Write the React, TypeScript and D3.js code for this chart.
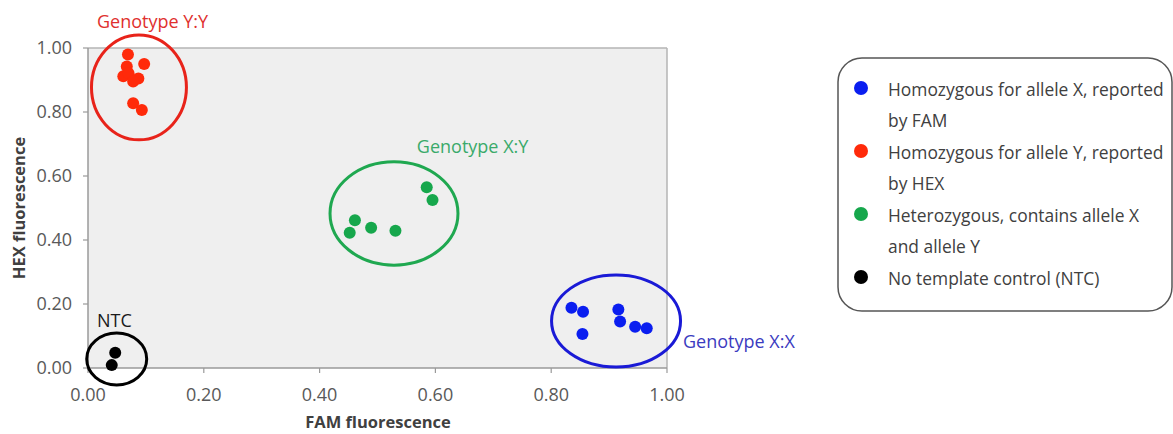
import React from "react";
import * as d3 from "d3";

// ---- data (FAM, HEX fluorescence) ----
const blueFAM = [0.835, 0.855, 0.854, 0.916, 0.919, 0.945, 0.965];
const blueHEX = [0.188, 0.176, 0.106, 0.183, 0.145, 0.129, 0.124];
const redFAM = [0.069, 0.097, 0.067, 0.061, 0.07, 0.087, 0.078, 0.078, 0.093];
const redHEX = [0.98, 0.95, 0.942, 0.912, 0.921, 0.905, 0.895, 0.827, 0.806];
const greenFAM = [0.585, 0.595, 0.461, 0.452, 0.489, 0.531];
const greenHEX = [0.565, 0.525, 0.462, 0.423, 0.438, 0.429];
const ntcFAM = [0.047, 0.041];
const ntcHEX = [0.048, 0.009];

const xTicks = [0, 0.2, 0.4, 0.6, 0.8, 1.0];
const yTicks = [0, 0.2, 0.4, 0.6, 0.8, 1.0];

const legendLabels = [
  ["Homozygous for allele X, reported", "by FAM"],
  ["Homozygous for allele Y, reported", "by HEX"],
  ["Heterozygous, contains allele X", "and allele Y"],
  ["No template control (NTC)"],
];

// cluster annotations in data units: cx, cy, rx, ry
const clusterNames = ["Genotype X:X", "Genotype Y:Y", "Genotype X:Y", "NTC"];
const clusterCX = [0.912, 0.088, 0.5285, 0.0496];
const clusterCY = [0.147, 0.877, 0.483, 0.028];
const clusterRX = [0.1114, 0.082, 0.1105, 0.0518];
const clusterRY = [0.144, 0.164, 0.1616, 0.081];
const labelX = [1.0276, 0.0155, 0.568, 0.0155];
const labelY = [0.0625, 1.0625, 0.672, 0.128];

const COLORS = ["#0a1ef0", "#ff2a0a", "#16a74c", "#000000"];
const ELLIPSE_COLORS = ["#1a1ad6", "#e8231a", "#1fa850", "#000000"];
const LABEL_COLORS = ["#3b3bc0", "#e0302e", "#3aaa6a", "#1a1a1a"];

export default function App() {
  const W = 1173;
  const H = 434;
  const x = d3.scaleLinear().domain([0, 1]).range([88, 667]);
  const y = d3.scaleLinear().domain([0, 1]).range([368, 48]);

  const series = [
    { fam: blueFAM, hex: blueHEX },
    { fam: redFAM, hex: redHEX },
    { fam: greenFAM, hex: greenHEX },
    { fam: ntcFAM, hex: ntcHEX },
  ];
  const font = "'Open Sans', sans-serif";
  const legendX = 838;
  const legendTop = 58;

  return (
    <svg
      width={W}
      height={H}
      style={{ position: "fixed", left: 0, top: 0, background: "#fff" }}
      fontFamily={font}
    >
      {/* plot area */}
      <rect x={x(0)} y={y(1)} width={x(1) - x(0)} height={y(0) - y(1)} fill="#efefef" />
      <line x1={x(0)} x2={x(1)} y1={y(1)} y2={y(1)} stroke="#b4b4b4" strokeWidth={1.5} />
      <line x1={x(1)} x2={x(1)} y1={y(1)} y2={y(0)} stroke="#b4b4b4" strokeWidth={1.5} />
      <line x1={x(0)} x2={x(1)} y1={y(0)} y2={y(0)} stroke="#9a9a9a" strokeWidth={1.5} />
      <line x1={x(0)} x2={x(0)} y1={y(1)} y2={y(0)} stroke="#9a9a9a" strokeWidth={1.5} />

      {/* y ticks */}
      {yTicks.map((t) => (
        <g key={"y" + t}>
          <line x1={x(0) - 5} x2={x(0)} y1={y(t)} y2={y(t)} stroke="#9a9a9a" strokeWidth={1.2} />
          <text x={72} y={y(t)} dy="0.36em" textAnchor="end" fontSize={18} fill="#595959">
            {d3.format(".2f")(t)}
          </text>
        </g>
      ))}
      {/* x ticks */}
      {xTicks.map((t) => (
        <g key={"x" + t}>
          <line x1={x(t)} x2={x(t)} y1={y(0)} y2={y(0) + 5} stroke="#9a9a9a" strokeWidth={1.2} />
          <text x={x(t)} y={401} textAnchor="middle" fontSize={18} fill="#595959">
            {d3.format(".2f")(t)}
          </text>
        </g>
      ))}

      {/* axis titles */}
      <text x={378} y={428} textAnchor="middle" fontSize={16.5} fontWeight="bold" fill="#404040">
        FAM fluorescence
      </text>
      <text
        transform={`translate(25,${208}) rotate(-90)`}
        textAnchor="middle"
        fontSize={16.5}
        fontWeight="bold"
        fill="#404040"
      >
        HEX fluorescence
      </text>

      {/* cluster ellipses */}
      {clusterNames.map((n, i) => (
        <ellipse
          key={"e" + i}
          cx={x(clusterCX[i])}
          cy={y(clusterCY[i])}
          rx={x(clusterRX[i]) - x(0)}
          ry={y(0) - y(clusterRY[i])}
          fill="none"
          stroke={ELLIPSE_COLORS[i]}
          strokeWidth={3}
        />
      ))}

      {/* points */}
      {series.map((s, i) =>
        s.fam.map((f, j) => (
          <circle key={`p${i}-${j}`} cx={x(f)} cy={y(s.hex[j])} r={6} fill={COLORS[i]} />
        ))
      )}

      {/* cluster labels */}
      {clusterNames.map((n, i) => (
        <text key={"l" + i} x={x(labelX[i])} y={y(labelY[i])} fontSize={18} fill={LABEL_COLORS[i]}>
          {n}
        </text>
      ))}

      {/* legend */}
      <rect
        x={legendX}
        y={legendTop}
        width={334}
        height={253}
        rx={24}
        ry={24}
        fill="#fff"
        stroke="#555"
        strokeWidth={1.5}
      />
      {legendLabels.map((lines, i) => (
        <g key={"lg" + i}>
          <circle cx={861} cy={88 + i * 63} r={7} fill={COLORS[i]} />
          {lines.map((ln, k) => (
            <text key={k} x={888} y={96 + i * 63 + k * 30.5} fontSize={17.4} fill="#404040">
              {ln}
            </text>
          ))}
        </g>
      ))}
    </svg>
  );
}
